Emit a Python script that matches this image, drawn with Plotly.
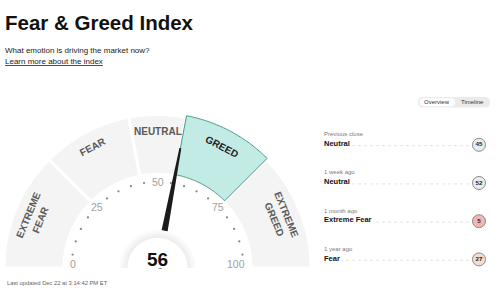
import numpy as np
import plotly.graph_objects as go

# ---------------- data ----------------
title = "Fear & Greed Index"
subtitle = "What emotion is driving the market now?"
link_text = "Learn more about the index"
updated = "Last updated Dec 22 at 3:14:42 PM ET"

zone_names = ["EXTREME<br>FEAR", "FEAR", "NEUTRAL", "GREED", "EXTREME<br>GREED"]
zone_bounds = [0, 25, 44, 56, 75, 100]
current_value = 56
current_zone = 3

tick_values = list(range(0, 101, 5))
tick_labels = [0, 25, 50, 75, 100]

hist_periods = ["Previous close", "1 week ago", "1 month ago", "1 year ago"]
hist_ratings = ["Neutral", "Neutral", "Extreme Fear", "Fear"]
hist_values = [45, 52, 5, 27]

toggle_labels = ["Overview", "Timeline"]

# ---------------- style / geometry ----------------
W, H = 500, 294
CX, CY = 157.5, 268.0
R_OUT, R_IN = 153.5, 93.5
R_TICK = 86.0
R_LABEL = 137.0
R_HUB = 30.0
GRAY_SEG = "#f4f4f4"
TEAL = "#c3ebe5"
TEAL_LINE = "#4a9a86"
COND = "Liberation Sans, Arial, sans-serif"
SANS = "Liberation Sans, Arial, Helvetica, sans-serif"
rating_fill = {"Extreme Fear": "#f5b5b0", "Fear": "#f8dccb", "Neutral": "#ececec",
               "Greed": "#c3ebe5", "Extreme Greed": "#9fdccf"}


def ang(v):
    return np.radians(180.0 * (1 - v / 100.0))


def pt(r, a):
    return CX + r * np.cos(a), CY - r * np.sin(a)


def sector_path(r0, r1, a0, a1, n=60):
    ts = np.linspace(a0, a1, n)
    pts = [pt(r1, t) for t in ts] + [pt(r0, t) for t in ts[::-1]]
    return "M " + " L ".join(f"{x:.2f},{y:.2f}" for x, y in pts) + " Z"


shapes = []
annotations = []

# gauge zones
for i in range(len(zone_names)):
    a0, a1 = ang(zone_bounds[i]), ang(zone_bounds[i + 1])
    if i == current_zone:
        continue
    shapes.append(dict(type="path", path=sector_path(R_IN, R_OUT, a1, a0),
                       fillcolor=GRAY_SEG, line=dict(color="white", width=3)))
# highlighted zone
a0, a1 = ang(zone_bounds[current_zone]), ang(zone_bounds[current_zone + 1])
shapes.append(dict(type="path", path=sector_path(R_IN + 1.5, R_OUT + 1.5, a1, a0),
                   fillcolor=TEAL, line=dict(color=TEAL_LINE, width=1)))

# zone labels
for i, name in enumerate(zone_names):
    mid = (zone_bounds[i] + zone_bounds[i + 1]) / 2
    a = ang(mid)
    r = R_LABEL - (4 if "<br>" in name else 0)
    x, y = pt(r, a)
    annotations.append(dict(x=x, y=y, xref="x", yref="y", text=name, showarrow=False,
                            textangle=-(np.degrees(a) - 90),
                            font=dict(family=COND, size=10,
                                      color="#222" if i == current_zone else "#5a5a5a",
                                      weight="bold"),
                            xanchor="center", yanchor="middle"))

# needle
an = ang(current_value)
perp = an + np.pi / 2
tip = pt(122, an)
b1 = (CX + 4.0 * np.cos(perp), CY - 4.0 * np.sin(perp))
b2 = (CX - 4.0 * np.cos(perp), CY + 4.0 * np.sin(perp))
t1 = (tip[0] + 1.0 * np.cos(perp), tip[1] - 1.0 * np.sin(perp))
t2 = (tip[0] - 1.0 * np.cos(perp), tip[1] + 1.0 * np.sin(perp))
shapes.append(dict(type="path",
                   path=f"M {b1[0]:.2f},{b1[1]:.2f} L {t1[0]:.2f},{t1[1]:.2f} L {t2[0]:.2f},{t2[1]:.2f} L {b2[0]:.2f},{b2[1]:.2f} Z",
                   fillcolor="#1b1b1b", line=dict(width=0)))

# hub with soft halo
for rr, col in [(R_HUB + 8, "#fbfbfb"), (R_HUB + 6, "#f7f7f7"), (R_HUB + 4, "#f2f2f2"),
                (R_HUB + 2, "#eeeeee"), (R_HUB, "#ffffff")]:
    shapes.append(dict(type="path", path=sector_path(0.01, rr, 0, np.pi),
                       fillcolor=col, line=dict(width=0)))

annotations.append(dict(x=CX, y=CY - 8.5, xref="x", yref="y", text=str(current_value),
                        showarrow=False, font=dict(family=SANS, size=19, color="#111", weight="bold"),
                        xanchor="center", yanchor="middle"))

# ticks
dot_vals = [v for v in tick_values if v not in tick_labels]
dx = [pt(R_TICK, ang(v))[0] for v in dot_vals]
dy = [pt(R_TICK, ang(v))[1] for v in dot_vals]

traces = [
    go.Scatter(x=dx, y=dy, mode="markers", marker=dict(size=2.3, color="#8a8a8a"),
               hoverinfo="skip"),
]
for v in tick_labels:
    a = ang(v)
    if v in (0, 100):
        x, _ = pt(89.5, a)
        anchor = "left" if v == 0 else "right"
        y = CY - 4.5
    else:
        x, y = pt(R_TICK, a)
        anchor = "center"
    annotations.append(dict(x=x, y=y, xref="x", yref="y", text=str(v), showarrow=False,
                            font=dict(family=SANS, size=10.5, color="#a0a0a0"),
                            xanchor=anchor, yanchor="middle"))

# header text
annotations += [
    dict(x=3, y=22, xref="x", yref="y", text=f"<b>{title}</b>", showarrow=False,
         font=dict(family=SANS, size=20.5, color="#111"), xanchor="left", yanchor="middle"),
    dict(x=3, y=50.5, xref="x", yref="y", text=subtitle, showarrow=False,
         font=dict(family=SANS, size=8, color="#222"), xanchor="left", yanchor="middle"),
    dict(x=3, y=61, xref="x", yref="y", text=link_text, showarrow=False,
         font=dict(family=SANS, size=8, color="#222", lineposition="under"),
         xanchor="left", yanchor="middle"),
    dict(x=5, y=283, xref="x", yref="y", text=updated, showarrow=False,
         font=dict(family=SANS, size=5.8, color="#666"), xanchor="left", yanchor="middle"),
]


# toggle pill
def pill(x0, x1, y0, y1):
    r = (y1 - y0) / 2
    return (f"M {x0 + r},{y0} L {x1 - r},{y0} Q {x1},{y0} {x1},{y0 + r} Q {x1},{y1} {x1 - r},{y1} "
            f"L {x0 + r},{y1} Q {x0},{y1} {x0},{y0 + r} Q {x0},{y0} {x0 + r},{y0} Z")


shapes.append(dict(type="path", path=pill(418, 490, 97, 107.5), fillcolor="#ebebeb",
                   line=dict(width=0)))
shapes.append(dict(type="path", path=pill(419.5, 455, 98.3, 106.2), fillcolor="#ffffff",
                   line=dict(width=0)))
for tx, lab in zip([437, 472.5], toggle_labels):
    annotations.append(dict(x=tx, y=102.3, xref="x", yref="y", text=lab, showarrow=False,
                            font=dict(family=SANS, size=6, color="#333"),
                            xanchor="center", yanchor="middle"))

# history rows
row_y = [143.5 + 38.2 * i for i in range(len(hist_periods))]
CIRC_X = 479
for y, per, rat in zip(row_y, hist_periods, hist_ratings):
    shapes.append(dict(type="line", x0=322, x1=CIRC_X - 8, y0=y + 2.2, y1=y + 2.2,
                       line=dict(color="#dcdcdc", width=0.8, dash="dot"), layer="below"))
    annotations.append(dict(x=322, y=y - 9.3, xref="x", yref="y", text=per, showarrow=False,
                            font=dict(family=SANS, size=6, color="#7a7a7a"),
                            xanchor="left", yanchor="middle"))
    annotations.append(dict(x=322, y=y, xref="x", yref="y", text=f"<b>{rat}</b>", showarrow=False,
                            font=dict(family=SANS, size=7.5, color="#111"), bgcolor="white",
                            borderpad=1, xanchor="left", yanchor="middle"))

traces.append(go.Scatter(
    x=[CIRC_X] * len(hist_values), y=[y + 1.3 for y in row_y], mode="markers+text",
    text=[f"<b>{v}</b>" for v in hist_values], textposition="middle center",
    textfont=dict(family=SANS, size=6.2, color="#222"),
    marker=dict(size=13, color=[rating_fill[r] for r in hist_ratings],
                line=dict(color="#8c8c8c", width=1)),
    hoverinfo="skip"))

fig = go.Figure(traces)
fig.update_layout(
    width=W, height=H, margin=dict(l=0, r=0, t=0, b=0),
    paper_bgcolor="white", plot_bgcolor="white", showlegend=False,
    xaxis=dict(range=[0, W], visible=False, fixedrange=True),
    yaxis=dict(range=[H, 0], visible=False, fixedrange=True),
    shapes=shapes, annotations=annotations,
)
fig.write_html("out.html")
